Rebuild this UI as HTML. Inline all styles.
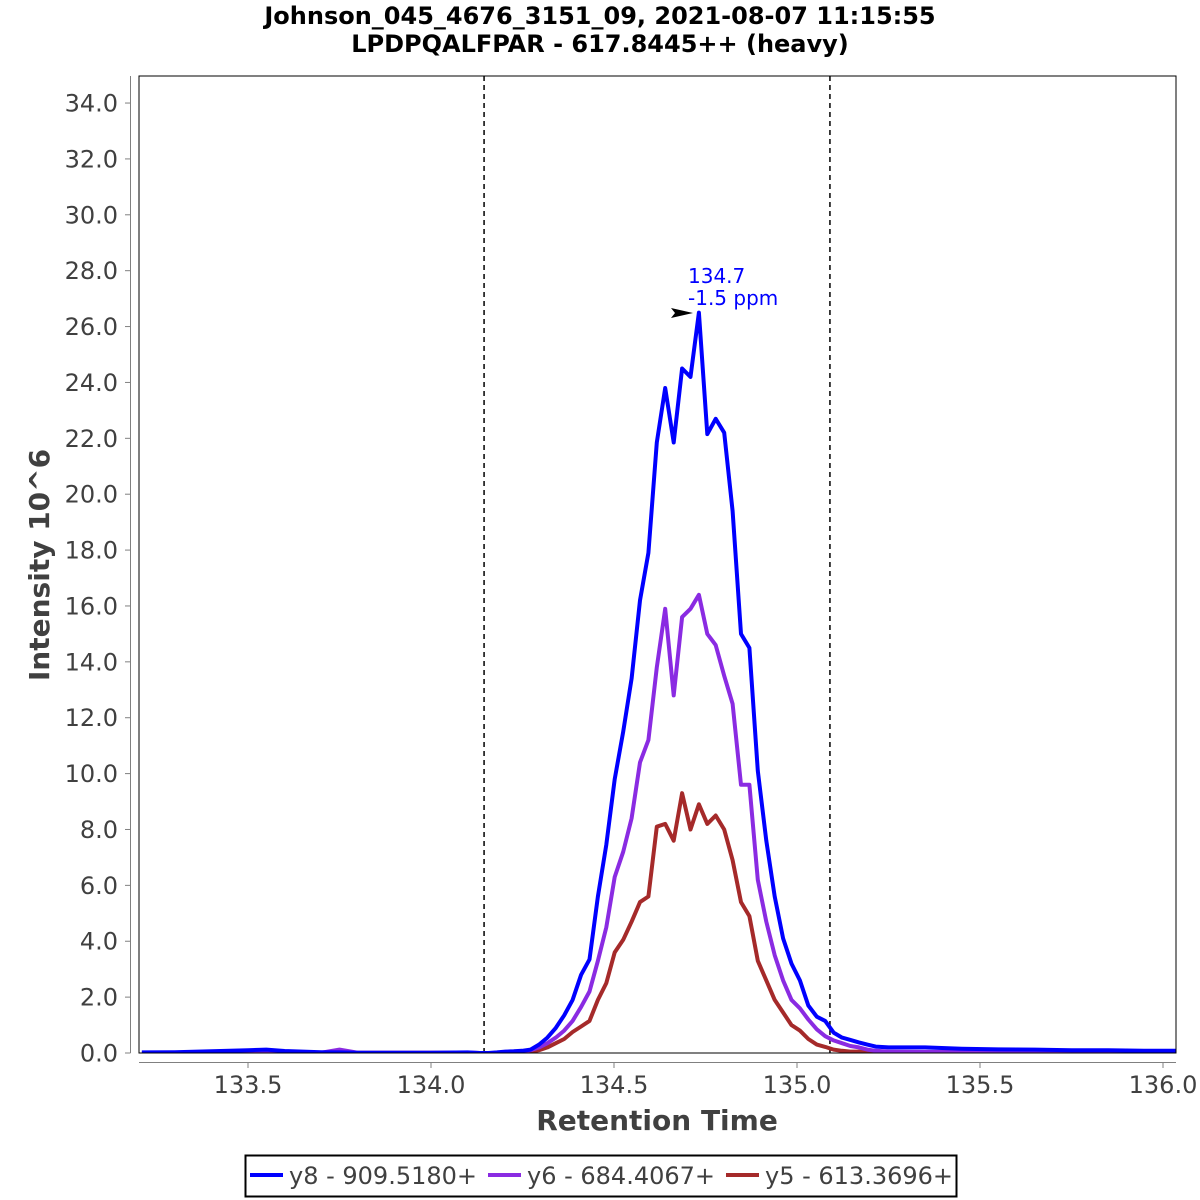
<!DOCTYPE html>
<html><head><meta charset="utf-8">
<style>
html,body{margin:0;padding:0;background:#fff;}
svg{display:block;font-family:"DejaVu Sans","Liberation Sans",sans-serif;}
</style></head>
<body>
<svg id="chart" width="1200" height="1200" viewBox="0 0 1200 1200" xmlns="http://www.w3.org/2000/svg">
<rect x="0" y="0" width="1200" height="1200" fill="#fff"/>
<text x="600" y="24" text-anchor="middle" font-size="24" font-weight="bold" fill="#000">Johnson_045_4676_3151_09, 2021-08-07 11:15:55</text>
<text x="600" y="52" text-anchor="middle" font-size="24" font-weight="bold" fill="#000">LPDPQALFPAR - 617.8445++ (heavy)</text>
<g id="axes"></g>
<g id="series" clip-path="url(#plotclip)"></g>
<defs><clipPath id="plotclip"><rect x="139" y="76" width="1037" height="977"/></clipPath></defs>
<rect x="139" y="76" width="1037" height="977" fill="none" stroke="#000" stroke-width="1"/>
<text x="657" y="1130" text-anchor="middle" font-size="28" font-weight="bold" fill="#404040">Retention Time</text>
<text transform="translate(49,565) rotate(-90)" text-anchor="middle" font-size="28" font-weight="bold" fill="#404040">Intensity 10^6</text>
<g>
<text x="688" y="283" font-size="20" fill="#0000ff">134.7</text>
<text x="688" y="305" font-size="20" fill="#0000ff">-1.5 ppm</text>
<polygon points="671,308 693,313 671,318 675,313" fill="#000"/>
</g>
<g>
<rect x="245.5" y="1155.5" width="711" height="41" fill="#fff" stroke="#000" stroke-width="2"/>
<g><line x1="250" y1="1175" x2="283" y2="1175" stroke="#0000ff" stroke-width="4"/><text x="289" y="1184" font-size="24" fill="#404040">y8 - 909.5180+</text></g>
<g><line x1="488" y1="1175" x2="521" y2="1175" stroke="#8a2be2" stroke-width="4"/><text x="527" y="1184" font-size="24" fill="#404040">y6 - 684.4067+</text></g>
<g><line x1="726" y1="1175" x2="759" y2="1175" stroke="#a52a2a" stroke-width="4"/><text x="765" y="1184" font-size="24" fill="#404040">y5 - 613.3696+</text></g>
</g>
</svg>
<script>
const NS="http://www.w3.org/2000/svg";
const xTicks=[133.5,134.0,134.5,135.0,135.5,136.0];
const xTickLabels=["133.5","134.0","134.5","135.0","135.5","136.0"];
const yTicks=[0,2,4,6,8,10,12,14,16,18,20,22,24,26,28,30,32,34];
const boundaries=[134.145,135.09];
const times=[133.21,133.3,133.4,133.5,133.55,133.6,133.7,133.75,133.8,133.9,134.0,134.1,
134.134,134.157,134.180,134.203,134.226,134.249,134.272,134.295,134.318,134.341,134.364,134.387,134.410,134.433,134.456,134.479,134.502,134.525,134.548,134.571,134.594,134.617,134.640,134.663,134.686,134.709,134.732,134.755,134.778,134.801,134.824,134.847,134.870,134.893,134.916,134.939,134.962,134.985,135.008,135.031,135.054,135.077,135.100,135.123,135.146,135.169,135.192,135.215,
135.25,135.35,135.45,135.55,135.65,135.75,135.85,135.95,136.05];
const y8=[0.02,0.03,0.06,0.1,0.12,0.07,0.03,0.02,0.01,0.01,0.01,0.02,
0.0,0.0,0.02,0.05,0.06,0.08,0.12,0.3,0.55,0.9,1.35,1.9,2.8,3.35,5.6,7.45,9.8,11.5,13.4,16.2,17.9,21.85,23.8,21.85,24.5,24.2,26.5,22.15,22.7,22.2,19.4,15.0,14.5,10.1,7.6,5.6,4.1,3.2,2.6,1.7,1.3,1.15,0.73,0.55,0.47,0.38,0.3,0.23,
0.2,0.2,0.15,0.13,0.12,0.1,0.1,0.08,0.08];
const y6=[0.01,0.01,0.02,0.03,0.03,0.02,0.01,0.12,0.01,0.01,0.01,0.01,
0,0,0,0,0.02,0.05,0.1,0.2,0.35,0.55,0.8,1.15,1.65,2.2,3.3,4.5,6.3,7.2,8.4,10.4,11.2,13.8,15.9,12.8,15.6,15.9,16.4,15.0,14.6,13.5,12.5,9.6,9.6,6.2,4.7,3.5,2.6,1.9,1.6,1.2,0.85,0.6,0.45,0.35,0.25,0.2,0.12,0.08,
0.05,0.04,0.04,0.03,0.03,0.03,0.02,0.02,0.02];
const y5=[0.01,0.01,0.01,0.01,0.01,0.01,0.01,0.01,0.01,0.01,0.01,0.01,
0,0,0,0,0,0.02,0.05,0.1,0.2,0.35,0.5,0.75,0.95,1.15,1.9,2.5,3.6,4.05,4.7,5.4,5.6,8.1,8.2,7.6,9.3,8.0,8.9,8.2,8.5,8.0,6.9,5.4,4.9,3.3,2.6,1.9,1.45,1.0,0.8,0.5,0.3,0.22,0.12,0.08,0.05,0.05,0.04,0.03,
0.02,0.02,0.02,0.02,0.02,0.02,0.02,0.02,0.02];
function xs(t){return 431+(t-134)*366;}
function ys(v){return 1053-v*27.94;}
const axes=document.getElementById('axes');
const series=document.getElementById('series');
function mk(tag,attrs,parent){const e=document.createElementNS(NS,tag);for(const k in attrs)e.setAttribute(k,attrs[k]);parent.appendChild(e);return e;}
let e;
e=mk('line',{x1:130.5,y1:76,x2:130.5,y2:1053,stroke:'#808080'},axes);


e=mk('line',{x1:139,y1:1062.5,x2:1176,y2:1062.5,stroke:'#808080'},axes);


yTicks.forEach(v=>{
  const y=ys(v);
  e=mk('line',{x1:125,y1:y,x2:130.5,y2:y,stroke:'#808080'},axes);
  
  
  e=mk('text',{x:118,y:y+8.5,'text-anchor':'end','font-size':24,fill:'#404040'},axes);
  e.textContent=v.toFixed(1);
  
  
});
xTicks.forEach((t,i)=>{
  const x=xs(t);
  e=mk('line',{x1:x,y1:1062.5,x2:x,y2:1068,stroke:'#808080'},axes);
  
  
  e=mk('text',{x:x,y:1093,'text-anchor':'middle','font-size':24,fill:'#404040'},axes);
  e.textContent=xTickLabels[i];
  
  
});
boundaries.forEach(t=>{
  e=mk('line',{x1:xs(t),y1:76,x2:xs(t),y2:1053,stroke:'#000','stroke-width':1.5,'stroke-dasharray':'5,4'},series);
  
  
});
function draw(vals,color,name){
  const pts=times.map((t,i)=>xs(t).toFixed(1)+','+ys(vals[i]).toFixed(1)).join(' ');
  const p=mk('polyline',{points:pts,fill:'none',stroke:color,'stroke-width':4,'stroke-linejoin':'round'},series);
  
  
}
draw(y5,'#a52a2a','series-y5');
draw(y6,'#8a2be2','series-y6');
draw(y8,'#0000ff','series-y8');
</script>
</body></html>
